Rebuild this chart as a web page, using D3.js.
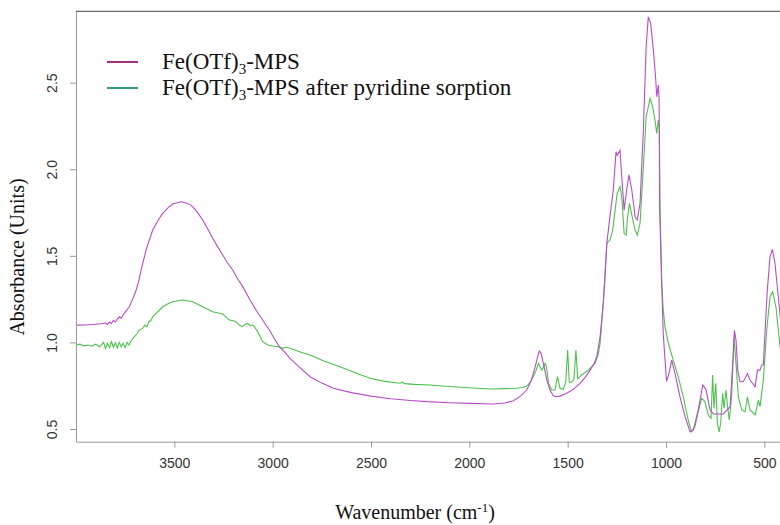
<!DOCTYPE html>
<html>
<head>
    <meta charset="UTF-8">
    <title>FTIR spectra</title>
    <script src="https://d3js.org/d3.v7.min.js"></script>
    <style>
        body { margin: 0; background: #fff; }
        .tick text { font-family: "Liberation Sans", Arial, sans-serif; font-size: 14px; fill: #333; }
        .title { font-family: "Liberation Serif", "Times New Roman", serif; font-size: 20px; fill: #111; }
        .legend text { font-family: "Liberation Serif", "Times New Roman", serif; font-size: 23px; fill: #111; }
    </style>
</head>
<body>
<div id="chart"></div>
<script>
// [wavenumber, absorbance]
const mps = [
    [4000,1.100],[3950,1.101],[3900,1.105],[3870,1.108],[3850,1.112],[3840,1.104],[3830,1.118],[3820,1.110],
    [3810,1.128],[3800,1.118],[3790,1.135],[3780,1.148],[3770,1.140],[3760,1.160],[3750,1.175],[3740,1.190],
    [3729,1.206],[3712,1.250],[3695,1.300],[3680,1.360],[3669,1.418],[3644,1.533],[3610,1.649],[3580,1.710],
    [3559,1.745],[3530,1.780],[3508,1.799],[3466,1.812],[3440,1.805],[3415,1.793],[3385,1.755],[3356,1.707],
    [3330,1.655],[3305,1.601],[3280,1.553],[3254,1.505],[3230,1.460],[3203,1.418],[3180,1.370],[3152,1.322],
    [3120,1.255],[3085,1.187],[3050,1.128],[3017,1.072],[2990,1.020],[2966,0.975],[2940,0.945],[2912,0.908],
    [2860,0.853],[2810,0.802],[2750,0.765],[2692,0.735],[2600,0.710],[2500,0.690],[2400,0.675],[2300,0.665],
    [2215,0.658],[2100,0.652],[2000,0.648],[1878,0.644],[1820,0.650],[1776,0.663],[1740,0.690],[1708,0.725],
    [1685,0.780],[1665,0.860],[1650,0.930],[1644,0.950],[1636,0.940],[1620,0.860],[1605,0.780],[1590,0.725],
    [1575,0.695],[1564,0.686],[1540,0.690],[1505,0.706],[1470,0.730],[1437,0.764],[1410,0.800],[1386,0.840],
    [1365,0.880],[1352,0.917],[1335,1.033],[1319,1.226],[1310,1.380],[1301,1.572],[1285,1.726],[1268,1.880],
    [1254,2.101],[1248,2.080],[1242,2.092],[1234,2.110],[1225,1.957],[1213,1.764],[1200,1.880],[1188,1.967],
    [1174,1.880],[1157,1.726],[1146,1.707],[1132,1.803],[1115,2.226],[1101,2.707],[1090,2.880],[1078,2.842],
    [1064,2.688],[1052,2.515],[1047,2.419],[1039,2.486],[1035,2.400],[1032,1.760],[1022,1.350],[1014,1.050],
    [1005,0.900],[997,0.775],[985,0.820],[971,0.898],[954,0.820],[929,0.686],[903,0.571],[878,0.484],
    [861,0.494],[836,0.610],[813,0.754],[796,0.725],[776,0.610],[759,0.587],[708,0.587],[674,0.629],
    [661,0.879],[652,1.070],[644,1.014],[635,0.840],[624,0.773],[607,0.773],[586,0.820],[573,0.783],
    [547,0.744],[535,0.840],[522,0.840],[513,0.870],[505,0.870],[496,1.070],[485,1.300],[471,1.495],
    [459,1.537],[446,1.457],[429,1.264],[415,1.100],[400,0.980]
];

const mpsPyridine = [
    [4000,0.985],[3980,0.990],[3960,0.980],[3940,0.985],[3920,0.978],[3900,0.990],[3880,0.975],[3860,1.000],
    [3850,0.965],[3840,0.995],[3830,0.970],[3820,1.005],[3810,0.972],[3800,0.998],[3790,0.968],[3780,1.000],
    [3770,0.975],[3760,0.995],[3750,0.970],[3740,1.000],[3730,0.985],[3720,1.010],[3703,1.033],[3690,1.050],
    [3680,1.070],[3661,1.081],[3650,1.100],[3640,1.090],[3630,1.120],[3620,1.125],[3610,1.148],[3590,1.170],
    [3559,1.206],[3530,1.225],[3508,1.235],[3457,1.245],[3407,1.235],[3356,1.206],[3305,1.177],[3254,1.164],
    [3220,1.129],[3200,1.125],[3186,1.120],[3170,1.100],[3152,1.091],[3140,1.105],[3127,1.110],[3115,1.095],
    [3101,1.100],[3090,1.085],[3076,1.062],[3051,1.004],[3025,0.985],[3000,0.979],[2970,0.975],[2949,0.966],
    [2930,0.972],[2912,0.966],[2860,0.945],[2810,0.927],[2740,0.893],[2658,0.860],[2580,0.825],[2505,0.793],
    [2430,0.775],[2352,0.764],[2340,0.770],[2330,0.762],[2280,0.758],[2200,0.754],[2120,0.747],[2047,0.741],
    [1960,0.735],[1895,0.731],[1820,0.733],[1759,0.735],[1730,0.740],[1708,0.748],[1690,0.770],[1675,0.802],
    [1660,0.840],[1649,0.879],[1640,0.860],[1632,0.840],[1621,0.860],[1615,0.879],[1610,0.870],[1603,0.820],
    [1598,0.764],[1581,0.725],[1564,0.725],[1552,0.802],[1545,0.770],[1539,0.735],[1522,0.728],[1510,0.770],
    [1500,0.956],[1492,0.770],[1480,0.770],[1468,0.790],[1458,0.956],[1449,0.790],[1429,0.812],[1395,0.840],
    [1361,0.879],[1345,0.930],[1335,0.995],[1319,1.226],[1301,1.572],[1285,1.591],[1271,1.649],[1259,1.764],
    [1248,1.861],[1234,1.899],[1225,1.841],[1213,1.630],[1203,1.620],[1195,1.726],[1186,1.803],[1174,1.736],
    [1157,1.649],[1146,1.620],[1132,1.688],[1118,1.957],[1101,2.303],[1081,2.409],[1068,2.361],[1056,2.284],
    [1047,2.207],[1039,2.284],[1034,2.240],[1030,1.760],[1022,1.350],[1014,1.187],[1005,1.090],[988,0.995],
    [963,0.898],[938,0.802],[912,0.686],[887,0.552],[870,0.484],[853,0.513],[836,0.600],[819,0.677],
    [802,0.658],[785,0.581],[771,0.562],[763,0.812],[756,0.620],[747,0.764],[739,0.533],[730,0.484],
    [722,0.533],[712,0.706],[705,0.620],[695,0.725],[686,0.620],[678,0.552],[666,0.690],[654,1.033],
    [644,0.879],[632,0.686],[615,0.610],[598,0.600],[586,0.686],[573,0.610],[547,0.581],[530,0.667],
    [522,0.629],[505,0.783],[488,1.070],[471,1.264],[458,1.293],[441,1.206],[420,0.975],[400,0.850]
];

const xTicks = [3500, 3000, 2500, 2000, 1500, 1000, 500];
const yTicks = [0.5, 1.0, 1.5, 2.0, 2.5];

const width = 780, height = 525;
const plotLeft = 76, plotTop = 11.3, plotBottom = 441.7, plotRight = 784;

const svg = d3.select("#chart").append("svg")
    .attr("width", width)
    .attr("height", height);

svg.append("rect").attr("width", width).attr("height", height).attr("fill", "#fff");

const x = d3.scaleLinear().domain([4000, 400]).range([plotLeft, plotRight]);
const y = d3.scaleLinear().domain([0.4267, 2.912]).range([plotBottom, plotTop]);

svg.append("clipPath").attr("id", "clip")
    .append("rect").attr("x", plotLeft).attr("y", plotTop)
    .attr("width", plotRight - plotLeft).attr("height", plotBottom - plotTop);

const line = d3.line().x(d => x(d[0])).y(d => y(d[1]));

const plot = svg.append("g").attr("clip-path", "url(#clip)");
plot.append("path").datum(mpsPyridine)
    .attr("d", line).attr("fill", "none")
    .attr("stroke", "#4cc24c").attr("stroke-width", 1.1);
plot.append("path").datum(mps)
    .attr("d", line).attr("fill", "none")
    .attr("stroke", "#b84cc8").attr("stroke-width", 1.1);

// axes
const xAxis = svg.append("g")
    .attr("transform", `translate(0,${plotBottom})`)
    .call(d3.axisBottom(x).tickValues(xTicks).tickSize(6).tickPadding(10)
        .tickFormat(d3.format("d")).tickSizeOuter(0));

const yAxis = svg.append("g")
    .attr("transform", `translate(${plotLeft},0)`)
    .call(d3.axisLeft(y).tickValues(yTicks).tickSize(6).tickFormat(d3.format(".1f")).tickSizeOuter(0));

yAxis.selectAll(".tick text")
    .attr("x", null).attr("dy", null)
    .attr("text-anchor", "middle")
    .attr("transform", "translate(-19,0) rotate(-90)");

[xAxis, yAxis].forEach(a => {
    a.select(".domain").attr("stroke", "#999");
    a.selectAll(".tick line").attr("stroke", "#999");
});

// top border
svg.append("line")
    .attr("x1", plotLeft).attr("x2", plotRight).attr("y1", plotTop).attr("y2", plotTop)
    .attr("stroke", "#444");

// axis titles
const xt = svg.append("text").attr("class", "title")
    .attr("x", 415).attr("y", 519).attr("text-anchor", "middle");
xt.append("tspan").text("Wavenumber (cm");
xt.append("tspan").attr("dy", -7).attr("font-size", 13).text("-1");
xt.append("tspan").attr("dy", 7).text(")");

svg.append("text").attr("class", "title")
    .attr("transform", "translate(24,257) rotate(-90)")
    .attr("text-anchor", "middle")
    .text("Absorbance (Units)");

// legend
const legendItems = [
    {suffix: "-MPS", color: "#a3307e"},
    {suffix: "-MPS after pyridine sorption", color: "#2e9e6e"}
];

const legend = svg.append("g").attr("class", "legend");
legendItems.forEach((d, i) => {
    const ly = 62 + i * 26;
    legend.append("line")
        .attr("x1", 107).attr("x2", 138).attr("y1", ly).attr("y2", ly)
        .attr("stroke", d.color).attr("stroke-width", 2);
    const t = legend.append("text").attr("x", 162).attr("y", ly + 7);
    t.append("tspan").text("Fe(OTf)");
    t.append("tspan").attr("dy", 5).attr("font-size", 15).text("3");
    t.append("tspan").attr("dy", -5).text(d.suffix);
});
</script>
</body>
</html>
